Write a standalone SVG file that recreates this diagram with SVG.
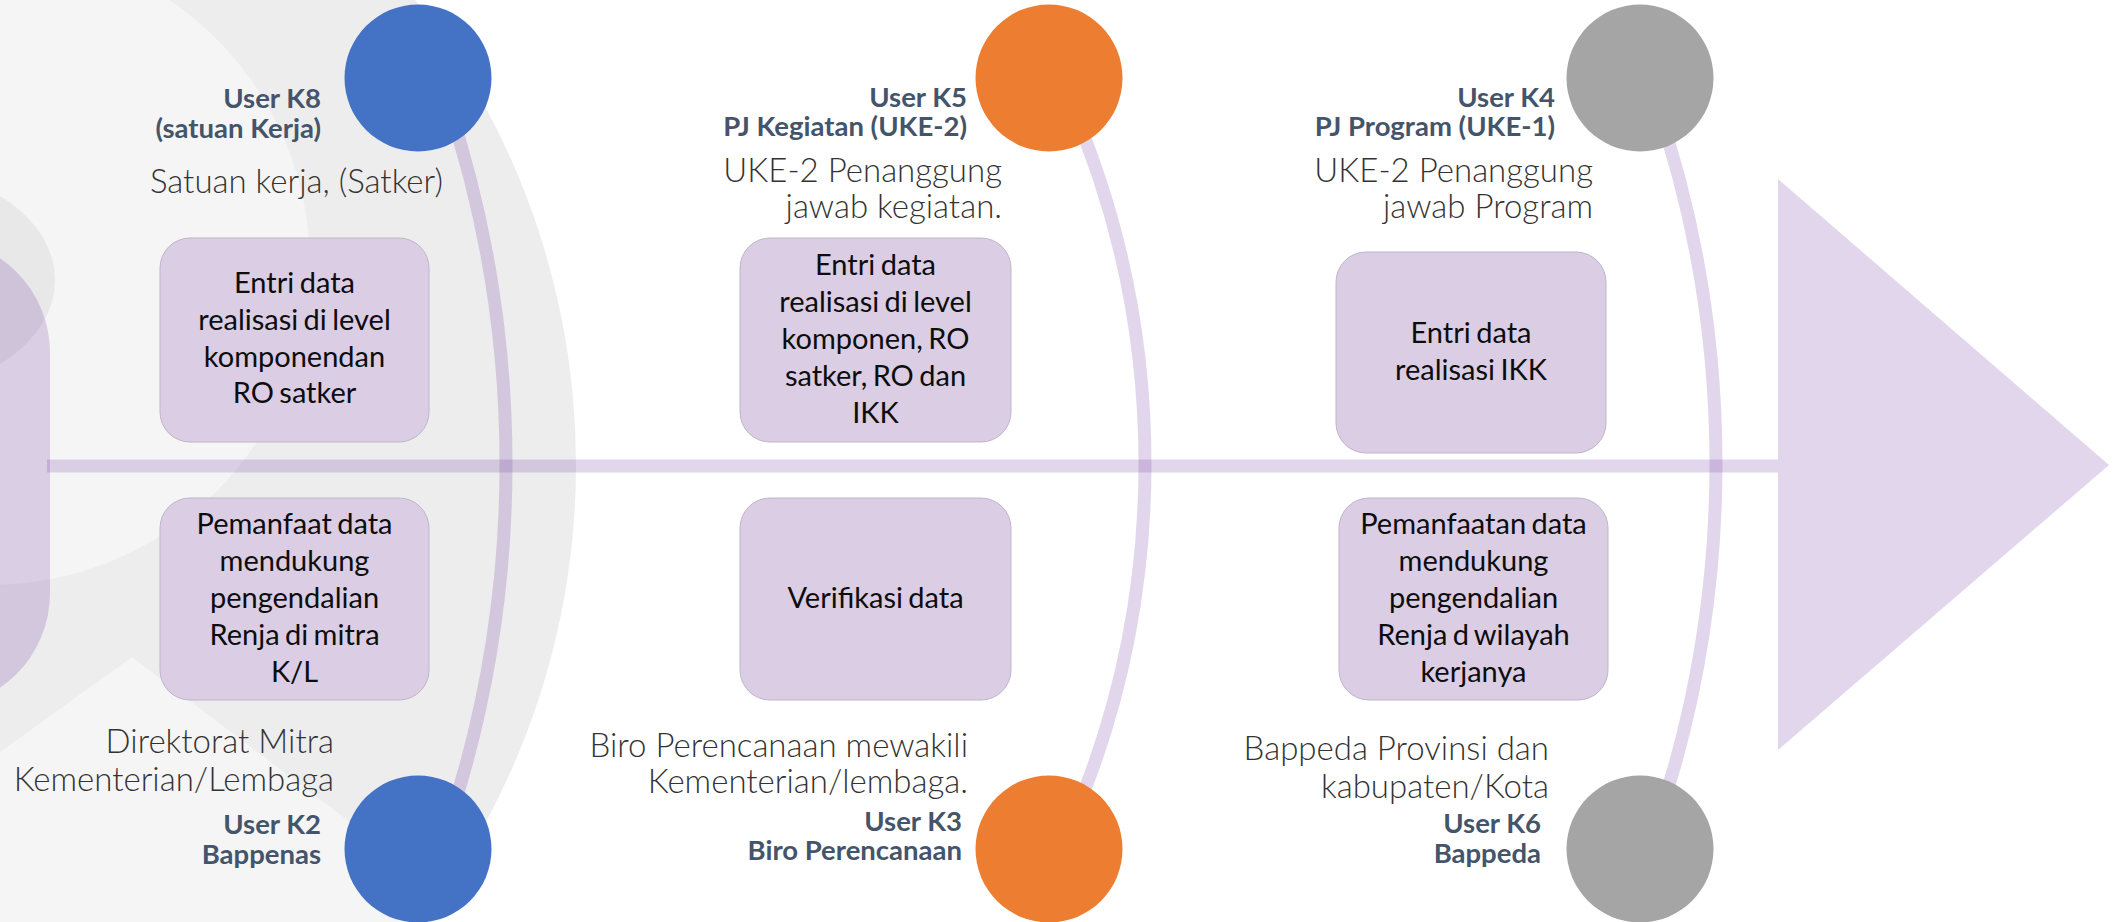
<svg xmlns="http://www.w3.org/2000/svg" width="2121" height="922" viewBox="0 0 2121 922">
<defs>
<clipPath id="outerClip"><circle cx="-176" cy="465" r="752"/></clipPath>
</defs>
<style>
.lbl{font-family:Lato,"Noto Sans",sans-serif;font-weight:700;font-size:27.5px;fill:#44546A;text-anchor:end}
.desc{font-family:Lato,"Noto Sans",sans-serif;font-weight:300;font-size:33px;fill:#333333;text-anchor:end}
.box{fill:#DACDE4;stroke:#BFB5C9;stroke-width:1}
.bt{font-family:Lato,"Noto Sans",sans-serif;font-weight:400;font-size:29px;fill:#0D0D0D;text-anchor:middle;word-spacing:-2px}
.bone{fill:none;stroke:#7030A0;stroke-opacity:0.2;stroke-width:13}
.tint{fill:#7030A0;fill-opacity:0.2}
</style>
<rect width="2121" height="922" fill="#FFFFFF"/>
<g id="background">
<circle cx="-176" cy="465" r="752" fill="#EDEDED"/>
<circle cx="-10" cy="265" r="320" fill="#F5F5F5"/>
<polygon points="0,752 132,657 482,922 0,922" fill="#F5F5F5" clip-path="url(#outerClip)"/>
<ellipse cx="-100" cy="280" rx="155" ry="110" fill="#E8E8E8"/>
<rect class="tint" x="-300" y="238" width="350" height="470" rx="115"/>
</g>
<g id="connectors">
<line class="bone" x1="47" y1="466" x2="1778" y2="466"/>
<path class="bone" d="M 446.9 100 A 1150 1150 0 0 1 446.9 828"/>
<path class="bone" d="M 1069.3 100 A 913 913 0 0 1 1069.3 828"/>
<path class="bone" d="M 1655.3 100 A 1122 1122 0 0 1 1655.3 828"/>
</g>
<g id="head"><polygon class="tint" points="1778,179 2109,465 1778,750"/></g>
<g id="box-k8-entri">
<rect class="box" x="160" y="238" width="269" height="204" rx="30"/>
<text class="bt" x="294.5" y="293">Entri data</text>
<text class="bt" x="294.5" y="330">realisasi di level</text>
<text class="bt" x="294.5" y="367">komponendan</text>
<text class="bt" x="294.5" y="403">RO satker</text>
</g>
<g id="box-k2-pemanfaat">
<rect class="box" x="160" y="498" width="269" height="202" rx="30"/>
<text class="bt" x="294.5" y="534">Pemanfaat data</text>
<text class="bt" x="294.5" y="571">mendukung</text>
<text class="bt" x="294.5" y="608">pengendalian</text>
<text class="bt" x="294.5" y="645">Renja di mitra</text>
<text class="bt" x="294.5" y="682">K/L</text>
</g>
<g id="box-k5-entri">
<rect class="box" x="740" y="238" width="271" height="204" rx="30"/>
<text class="bt" x="875.5" y="275">Entri data</text>
<text class="bt" x="875.5" y="312">realisasi di level</text>
<text class="bt" x="875.5" y="349">komponen, RO</text>
<text class="bt" x="875.5" y="386">satker, RO dan</text>
<text class="bt" x="875.5" y="423">IKK</text>
</g>
<g id="box-k3-verifikasi">
<rect class="box" x="740" y="498" width="271" height="202" rx="30"/>
<text class="bt" x="875.5" y="608">Verifikasi data</text>
</g>
<g id="box-k4-entri">
<rect class="box" x="1336" y="252" width="270" height="201" rx="30"/>
<text class="bt" x="1471" y="343">Entri data</text>
<text class="bt" x="1471" y="380">realisasi IKK</text>
</g>
<g id="box-k6-pemanfaatan">
<rect class="box" x="1339" y="498" width="269" height="202" rx="30"/>
<text class="bt" x="1473.5" y="534">Pemanfaatan data</text>
<text class="bt" x="1473.5" y="571">mendukung</text>
<text class="bt" x="1473.5" y="608">pengendalian</text>
<text class="bt" x="1473.5" y="645">Renja d wilayah</text>
<text class="bt" x="1473.5" y="682">kerjanya</text>
</g>
<g id="user-k8">
<circle cx="418" cy="78" r="73.5" fill="#4472C4"/>
<text class="lbl" x="321" y="108">User K8</text>
<text class="lbl" x="321" y="138">(satuan Kerja)</text>
<text class="desc" x="443" y="193">Satuan kerja, (Satker)</text>
</g>
<g id="user-k5">
<circle cx="1049" cy="78" r="73.5" fill="#ED7D31"/>
<text class="lbl" x="967" y="107">User K5</text>
<text class="lbl" x="967" y="136">PJ Kegiatan (UKE-2)</text>
<text class="desc" x="1002" y="182">UKE-2 Penanggung</text>
<text class="desc" x="1002" y="218">jawab kegiatan.</text>
</g>
<g id="user-k4">
<circle cx="1640" cy="78" r="73.5" fill="#A5A5A5"/>
<text class="lbl" x="1555" y="107">User K4</text>
<text class="lbl" x="1555" y="136">PJ Program (UKE-1)</text>
<text class="desc" x="1593" y="182">UKE-2 Penanggung</text>
<text class="desc" x="1593" y="218">jawab Program</text>
</g>
<g id="user-k2">
<circle cx="418" cy="849" r="73.5" fill="#4472C4"/>
<text class="desc" x="334" y="753">Direktorat Mitra</text>
<text class="desc" x="334" y="791">Kementerian/Lembaga</text>
<text class="lbl" x="321" y="834">User K2</text>
<text class="lbl" x="321" y="864">Bappenas</text>
</g>
<g id="user-k3">
<circle cx="1049" cy="849" r="73.5" fill="#ED7D31"/>
<text class="desc" x="968" y="757">Biro Perencanaan mewakili</text>
<text class="desc" x="968" y="793">Kementerian/lembaga.</text>
<text class="lbl" x="962" y="831">User K3</text>
<text class="lbl" x="962" y="860">Biro Perencanaan</text>
</g>
<g id="user-k6">
<circle cx="1640" cy="849" r="73.5" fill="#A5A5A5"/>
<text class="desc" x="1549" y="760">Bappeda Provinsi dan</text>
<text class="desc" x="1549" y="798">kabupaten/Kota</text>
<text class="lbl" x="1541" y="833">User K6</text>
<text class="lbl" x="1541" y="863">Bappeda</text>
</g>
</svg>
